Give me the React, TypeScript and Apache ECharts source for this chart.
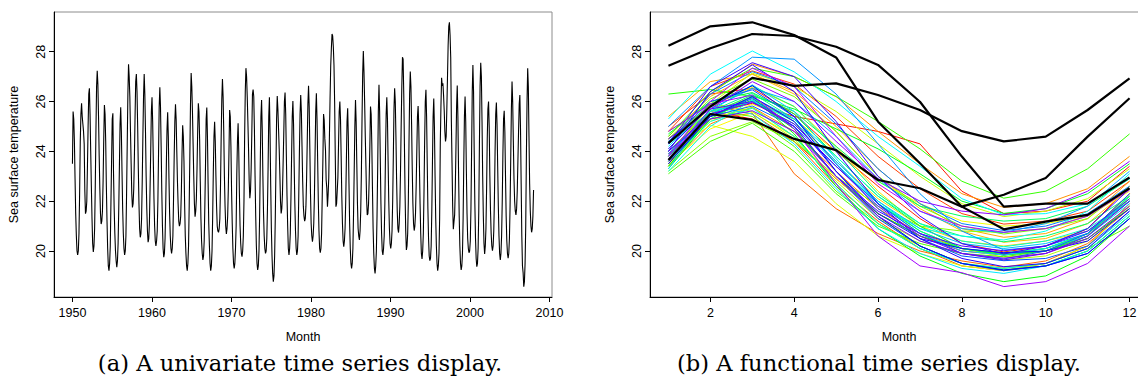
import React, { useEffect, useRef } from "react";
import * as echarts from "echarts";

const startYear = 1950;

const sst1950s: number[][] = [
  [23.5, 25.6, 25.3, 24.4, 22.9, 21.5, 20.6, 20.0, 19.84, 20.0, 20.7, 22.3],
  [24.4, 25.5, 25.93, 25.4, 25.1, 24.8, 24.3, 22.4, 21.5, 21.6, 22.0, 23.4],
  [25.0, 26.3, 26.53, 25.5, 24.0, 22.6, 21.3, 20.3, 19.96, 20.2, 20.9, 22.6],
  [24.8, 26.6, 27.23, 26.7, 25.4, 23.8, 22.5, 21.5, 21.08, 21.2, 21.6, 22.8],
  [24.5, 25.86, 25.5, 24.4, 22.6, 21.2, 20.1, 19.4, 19.21, 19.5, 20.2, 21.9],
  [23.6, 25.3, 25.53, 23.1, 21.7, 20.7, 20.0, 19.6, 19.35, 19.6, 20.3, 21.7],
  [23.4, 25.1, 25.77, 24.8, 23.2, 21.7, 20.7, 20.1, 19.84, 20.0, 20.6, 22.3],
  [24.3, 26.3, 27.5, 27.0, 26.2, 24.8, 23.5, 22.3, 21.75, 21.9, 22.5, 23.8],
  [25.4, 26.8, 27.1, 26.4, 25.0, 23.3, 21.9, 20.9, 20.55, 20.7, 21.3, 22.8],
  [24.6, 26.2, 27.1, 26.3, 24.8, 23.0, 21.7, 20.8, 20.35, 20.5, 21.1, 22.5],
];
const sst1960s: number[][] = [
  [24.0, 25.6, 26.17, 25.2, 23.6, 22.1, 21.0, 20.4, 20.2, 20.4, 20.8, 22.0],
  [23.9, 25.8, 26.57, 25.8, 24.2, 22.4, 21.0, 20.1, 19.75, 19.9, 20.5, 21.8],
  [23.5, 24.9, 25.57, 24.6, 22.9, 21.5, 20.6, 20.1, 19.9, 20.1, 20.6, 22.1],
  [23.8, 25.2, 25.89, 25.3, 24.0, 22.8, 21.9, 21.2, 21.0, 21.1, 21.4, 22.4],
  [23.9, 25.05, 24.6, 23.6, 21.9, 20.6, 19.9, 19.4, 19.21, 19.5, 20.2, 21.8],
  [23.8, 25.9, 27.14, 26.6, 25.6, 24.3, 23.0, 21.9, 21.38, 21.6, 22.1, 23.3],
  [24.8, 25.93, 25.6, 24.5, 22.8, 21.3, 20.4, 19.9, 19.64, 19.8, 20.4, 21.8],
  [23.4, 25.3, 25.76, 24.6, 22.7, 21.1, 20.2, 19.5, 19.21, 19.4, 20.0, 21.4],
  [23.2, 24.6, 25.19, 24.4, 23.0, 21.8, 21.0, 20.8, 20.75, 20.9, 21.3, 22.6],
  [24.5, 26.1, 26.9, 26.2, 24.8, 23.0, 21.8, 21.0, 20.68, 20.9, 21.4, 22.5],
];
const sst1970s: number[][] = [
  [24.0, 25.66, 25.4, 24.2, 22.4, 21.1, 20.1, 19.5, 19.3, 19.5, 20.1, 21.0],
  [23.1, 24.4, 25.13, 24.0, 22.3, 21.0, 20.3, 19.9, 19.77, 20.0, 20.6, 22.0],
  [24.6, 26.4, 27.34, 27.0, 26.2, 25.2, 24.1, 22.8, 22.12, 22.4, 23.3, 24.7],
  [26.3, 26.48, 26.2, 24.9, 23.0, 21.4, 20.2, 19.5, 19.24, 19.4, 20.0, 21.4],
  [23.5, 25.4, 26.06, 24.9, 23.0, 21.5, 20.6, 20.1, 19.9, 20.0, 20.5, 21.7],
  [23.4, 25.4, 26.17, 24.7, 22.6, 20.9, 19.8, 19.1, 18.77, 19.0, 19.8, 21.3],
  [23.3, 25.3, 26.22, 25.7, 24.9, 24.1, 23.1, 22.0, 21.51, 21.7, 22.3, 23.5],
  [24.7, 26.0, 26.36, 25.5, 23.8, 22.2, 21.0, 20.1, 19.84, 20.1, 20.7, 22.1],
  [23.8, 25.4, 26.02, 25.1, 23.4, 21.9, 20.8, 20.1, 19.84, 20.0, 20.6, 22.2],
  [24.0, 25.5, 26.26, 25.6, 24.2, 22.8, 21.8, 21.4, 21.2, 21.3, 21.8, 22.9],
];
const sst1980s: number[][] = [
  [24.4, 25.9, 26.63, 25.8, 24.1, 22.3, 21.1, 20.6, 20.37, 20.6, 21.1, 22.2],
  [23.9, 25.6, 26.33, 25.3, 23.6, 22.0, 20.8, 20.1, 19.93, 20.1, 20.7, 22.2],
  [23.65, 25.5, 25.26, 24.5, 24.05, 22.85, 22.52, 21.78, 22.26, 22.93, 24.59, 26.13],
  [27.44, 28.14, 28.71, 28.63, 28.2, 27.47, 25.99, 23.79, 21.78, 21.9, 21.9, 22.95],
  [24.3, 25.6, 26.0, 25.3, 23.8, 22.2, 21.1, 20.4, 20.17, 20.4, 20.9, 22.0],
  [23.6, 25.2, 25.73, 24.6, 22.7, 21.1, 20.1, 19.5, 19.3, 19.5, 20.1, 21.5],
  [23.2, 25.0, 26.06, 25.2, 23.5, 21.9, 20.9, 20.6, 20.44, 20.8, 21.6, 23.1],
  [25.3, 27.1, 28.03, 27.19, 26.0, 24.6, 23.4, 22.1, 21.45, 21.5, 21.9, 22.9],
  [24.2, 25.8, 25.5, 24.3, 22.5, 20.9, 19.9, 19.3, 19.1, 19.4, 20.0, 21.4],
  [23.3, 25.6, 26.67, 25.6, 23.7, 21.9, 20.7, 20.0, 19.84, 20.1, 20.6, 21.9],
];
const sst1990s: number[][] = [
  [23.9, 25.5, 26.17, 25.3, 23.6, 22.0, 20.9, 20.3, 20.1, 20.3, 20.8, 22.0],
  [23.8, 25.7, 26.53, 26.0, 24.6, 22.9, 21.6, 20.9, 20.74, 21.1, 21.8, 23.2],
  [25.0, 26.6, 27.78, 27.7, 26.3, 24.3, 22.3, 20.8, 20.04, 20.2, 20.7, 22.0],
  [24.3, 26.3, 27.2, 26.6, 25.1, 23.3, 21.9, 21.1, 20.82, 21.0, 21.5, 22.6],
  [24.0, 25.4, 25.82, 25.0, 23.4, 21.9, 20.7, 19.9, 19.68, 20.0, 20.7, 22.3],
  [24.4, 26.0, 26.47, 25.4, 23.5, 21.7, 20.5, 19.8, 19.61, 19.7, 20.2, 21.6],
  [23.6, 25.4, 26.12, 25.0, 23.0, 21.3, 20.2, 19.5, 19.21, 19.4, 19.9, 21.3],
  [24.33, 25.8, 26.95, 26.63, 26.73, 26.26, 25.66, 24.81, 24.4, 24.59, 25.66, 26.93],
  [28.24, 29.02, 29.18, 28.67, 27.77, 25.19, 23.52, 21.78, 20.87, 21.18, 21.45, 22.52],
  [24.1, 25.8, 26.64, 25.4, 23.2, 21.4, 20.2, 19.5, 19.24, 19.4, 19.9, 21.3],
];
const sst2000s: number[][] = [
  [23.5, 25.4, 26.2, 25.2, 23.2, 21.5, 20.5, 20.1, 19.93, 20.0, 20.4, 21.7],
  [24.0, 26.4, 27.47, 26.4, 24.0, 21.9, 20.5, 19.7, 19.37, 19.5, 20.1, 21.6],
  [24.3, 26.6, 27.56, 27.0, 25.2, 23.0, 21.4, 20.3, 19.88, 20.2, 20.9, 22.5],
  [24.5, 25.7, 26.0, 25.0, 23.0, 21.6, 20.7, 20.2, 20.01, 20.2, 20.8, 22.1],
  [24.0, 25.5, 25.96, 25.1, 23.4, 21.8, 20.6, 19.9, 19.64, 19.9, 20.6, 22.0],
  [23.9, 25.3, 25.63, 24.8, 23.0, 21.4, 20.4, 19.9, 19.71, 19.9, 20.5, 21.8],
  [23.7, 25.7, 26.8, 26.0, 24.4, 22.9, 22.0, 21.6, 21.45, 21.7, 22.4, 23.6],
  [24.8, 25.9, 26.26, 24.9, 22.7, 20.6, 19.4, 19.13, 18.57, 18.77, 19.5, 21.0],
  [23.8, 26.0, 27.34, 26.6, 24.6, 22.7, 21.6, 21.0, 20.75, 20.9, 21.4, 22.45],
];

const outlierYears = [1982, 1983, 1997, 1998];
const months = [1, 2, 3, 4, 5, 6, 7, 8, 9, 10, 11, 12];
const yearTicks = [1950, 1960, 1970, 1980, 1990, 2000, 2010];
const monthTicks = [2, 4, 6, 8, 10, 12];
const tempTicks = [20, 22, 24, 26, 28];

const yearRows = [...sst1950s, ...sst1960s, ...sst1970s, ...sst1980s, ...sst1990s, ...sst2000s];

function hsvHex(h: number): string {
  const i = Math.floor(h * 6);
  const f = h * 6 - i;
  const q = 1 - f;
  let r = 0, g = 0, b = 0;
  switch (i % 6) {
    case 0: r = 1; g = f; b = 0; break;
    case 1: r = q; g = 1; b = 0; break;
    case 2: r = 0; g = 1; b = f; break;
    case 3: r = 0; g = q; b = 1; break;
    case 4: r = f; g = 0; b = 1; break;
    default: r = 1; g = 0; b = q; break;
  }
  const c = (v: number) => Math.round(v * 255).toString(16).padStart(2, "0");
  return "#" + c(r) + c(g) + c(b);
}

const FONT = "'Liberation Sans', Arial, Helvetica, sans-serif";
const Y_MIN = 18.153;
const Y_MAX = 29.594;

function buildOption() {
  const flat: number[] = [];
  yearRows.forEach((row) => row.forEach((v) => flat.push(v)));
  const nPts = flat.length;
  const endX = startYear + yearRows.length - 1;
  const span = endX - startYear;
  const tsData = flat.map((v, i) => [startYear + (i * span) / (nPts - 1), v]);
  const pad = span * 0.04;

  const n = yearRows.length;
  const axisLine = { show: true, onZero: false, lineStyle: { color: "#000", width: 1 } };
  const tick = (vals: number[]) => ({ show: true, length: 5, inside: false, customValues: vals, lineStyle: { color: "#000", width: 1 } });
  const xLabel = (vals: number[]) => ({
    show: true, customValues: vals, color: "#000", fontSize: 12.5, fontFamily: FONT, margin: 9,
    formatter: (v: number) => String(v),
  });
  const yLabel = {
    show: true, customValues: tempTicks, color: "#000", fontSize: 12.5, fontFamily: FONT, margin: 7, rotate: 90,
    formatter: (v: number) => String(v),
  };
  const nameStyle = { color: "#000", fontSize: 12.5, fontFamily: FONT };

  const funcSeries: any[] = yearRows.map((row, k) => {
    const yr = startYear + k;
    const isOut = outlierYears.indexOf(yr) >= 0;
    return {
      type: "line",
      name: String(yr),
      xAxisIndex: 1,
      yAxisIndex: 1,
      data: months.map((m, j) => [m, row[j]]),
      showSymbol: false,
      symbol: "none",
      z: isOut ? 5 : 2,
      lineStyle: { color: isOut ? "#000" : hsvHex(k / (n * 1.25)), width: isOut ? 2.2 : 1 },
      silent: true,
    };
  });

  const capFont = "22.6px 'DejaVu Serif', serif";

  return {
    animation: false,
    backgroundColor: "#fff",
    grid: [
      { left: 54, top: 12, width: 498, height: 285, show: true, borderColor: "#8c8c8c", borderWidth: 1, backgroundColor: "transparent" },
      { left: 650, top: 12, width: 498, height: 285, show: true, borderColor: "#8c8c8c", borderWidth: 1, backgroundColor: "transparent" },
    ],
    xAxis: [
      {
        type: "value", gridIndex: 0, min: startYear - pad, max: endX + pad,
        axisLine, axisTick: tick(yearTicks), axisLabel: xLabel(yearTicks), splitLine: { show: false },
        name: "Month", nameLocation: "middle", nameGap: 33, nameTextStyle: nameStyle,
      },
      {
        type: "value", gridIndex: 1, min: 1 - 11 * 0.04, max: 12 + 11 * 0.04,
        axisLine, axisTick: tick(monthTicks), axisLabel: xLabel(monthTicks), splitLine: { show: false },
        name: "Month", nameLocation: "middle", nameGap: 33, nameTextStyle: nameStyle,
      },
    ],
    yAxis: [
      {
        type: "value", gridIndex: 0, min: Y_MIN, max: Y_MAX,
        axisLine, axisTick: tick(tempTicks), axisLabel: yLabel, splitLine: { show: false },
        name: "Sea surface temperature", nameLocation: "middle", nameGap: 34, nameRotate: 90, nameTextStyle: nameStyle,
      },
      {
        type: "value", gridIndex: 1, min: Y_MIN, max: Y_MAX,
        axisLine, axisTick: tick(tempTicks), axisLabel: yLabel, splitLine: { show: false },
        name: "Sea surface temperature", nameLocation: "middle", nameGap: 34, nameRotate: 90, nameTextStyle: nameStyle,
      },
    ],
    series: [
      {
        type: "line", xAxisIndex: 0, yAxisIndex: 0, data: tsData, showSymbol: false, symbol: "none",
        lineStyle: { color: "#000", width: 1.1 }, silent: true,
      },
      ...funcSeries,
    ],
    graphic: [
      {
        type: "text", x: 300, y: 363,
        style: { text: "(a) A univariate time series display.", font: capFont, fill: "#000", align: "center", verticalAlign: "middle" },
      },
      {
        type: "text", x: 879, y: 363,
        style: { text: "(b) A functional time series display.", font: capFont, fill: "#000", align: "center", verticalAlign: "middle" },
      },
    ],
  };
}

export default function App() {
  const ref = useRef<HTMLDivElement>(null);
  useEffect(() => {
    if (!ref.current) return;
    const chart = echarts.init(ref.current, undefined, { renderer: "svg" });
    chart.setOption(buildOption() as any);
    return () => chart.dispose();
  }, []);
  return (
    <div style={{ position: "fixed", left: 0, top: 0, width: 1138, height: 383, overflow: "hidden", background: "#fff" }}>
      <div ref={ref} style={{ width: 1160, height: 383 }} />
    </div>
  );
}
